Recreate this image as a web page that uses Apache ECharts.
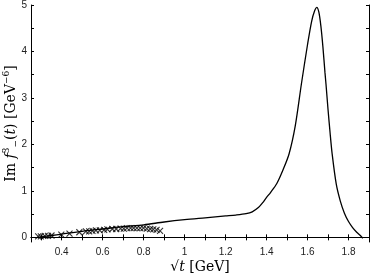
<!DOCTYPE html>
<html><head><meta charset="utf-8">
<script src="https://cdn.jsdelivr.net/npm/echarts@6/dist/echarts.min.js"></script>
<style>html,body{margin:0;padding:0;background:#fff}#c{width:371px;height:276px}</style>
</head><body><div id="c"></div>
<script>
// Theory curve
const curveX = [0.28,0.30,0.35,0.40,0.50,0.60,0.70,0.80,0.90,1.00,1.10,1.20,1.25,1.30,1.33,1.36,1.38,1.40,1.42,1.45,1.48,1.51,1.54,1.57,1.60,1.62,1.635,1.645,1.655,1.665,1.675,1.685,1.69,1.70,1.71,1.72,1.74,1.76,1.78,1.80,1.82,1.84,1.86,1.87];
const curveY = [0.00,0.01,0.04,0.07,0.13,0.18,0.23,0.27,0.33,0.38,0.42,0.46,0.48,0.51,0.55,0.64,0.74,0.86,0.97,1.16,1.45,1.80,2.40,3.30,4.15,4.65,4.88,4.95,4.85,4.55,4.10,3.55,3.30,2.75,2.25,1.80,1.15,0.78,0.52,0.34,0.21,0.11,0.03,-0.02];
// Data points (crosses)
const dataX = [0.285,0.298,0.317,0.333,0.350,0.398,0.438,0.486,0.518,0.534,0.550,0.567,0.586,0.607,0.623,0.647,0.666,0.687,0.703,0.719,0.736,0.751,0.767,0.783,0.799,0.815,0.832,0.847,0.863,0.880];
const dataY = [0.02,0.02,0.03,0.03,0.04,0.06,0.08,0.11,0.13,0.13,0.14,0.15,0.15,0.16,0.17,0.18,0.18,0.19,0.19,0.20,0.20,0.20,0.20,0.20,0.20,0.19,0.18,0.17,0.16,0.14];
const xTicks = [0.3,0.4,0.5,0.6,0.7,0.8,0.9,1.0,1.1,1.2,1.3,1.4,1.5,1.6,1.7,1.8];
const xLabels = [0.4,0.6,0.8,1,1.2,1.4,1.6,1.8];
const yTicks = [0,0.5,1,1.5,2,2.5,3,3.5,4,4.5,5];
const yLabels = [0,1,2,3,4,5];

const chart = echarts.init(document.getElementById('c'));
const axisLine = {show:true, lineStyle:{color:'#000', width:1}};
const tickStyle = {lineStyle:{color:'#000', width:1}};
const lab = {color:'#222', fontFamily:'Liberation Sans, Arial, sans-serif', fontSize:10};
const serif = 'DejaVu Serif, Liberation Serif, serif';
chart.setOption({
  animation:false,
  grid:{left:31, right:2, top:5, bottom:34, containLabel:false, outerBoundsMode:'none'},
  xAxis:[{
    type:'value', min:0.25, max:1.9, position:'bottom',
    axisLine, splitLine:{show:false},
    axisTick:{show:true, inside:true, length:3, customValues:xTicks, ...tickStyle},
    axisLabel:{...lab, margin:5, customValues:xLabels},
    name:'{r|√}{i|t}{r| [GeV]}', nameLocation:'middle', nameGap:18, nameMoveOverlap:false,
    nameTextStyle:{rich:{r:{fontFamily:serif,fontSize:14,color:'#000'}, i:{fontFamily:serif,fontStyle:'italic',fontSize:14,color:'#000'}}}
  },{
    type:'value', min:0.25, max:1.9, position:'top',
    axisLine, splitLine:{show:false},
    axisTick:{show:true, inside:true, length:3, customValues:xTicks, ...tickStyle},
    axisLabel:{show:false}
  }],
  yAxis:[{
    type:'value', min:-0.1, max:5, position:'left',
    axisLine, splitLine:{show:false},
    axisTick:{show:true, inside:true, length:3, customValues:yTicks, ...tickStyle},
    axisLabel:{...lab, margin:4, customValues:yLabels},
    name:'{r|Im }{i|f}{sup|3}{sub|−}{r|(}{i|t}{r|) [GeV}{sup|−6}{r|]}', nameLocation:'middle', nameGap:11, nameRotate:90, nameMoveOverlap:false,
    nameTextStyle:{rich:{
      r:{fontFamily:serif,fontSize:14,color:'#000',lineHeight:18,verticalAlign:'middle'},
      i:{fontFamily:serif,fontStyle:'italic',fontSize:14,color:'#000',lineHeight:18,verticalAlign:'middle'},
      sup:{fontFamily:serif,fontSize:9,color:'#000',lineHeight:18,verticalAlign:'top'},
      sub:{fontFamily:serif,fontSize:9,color:'#000',lineHeight:18,verticalAlign:'bottom'}
    }}
  },{
    type:'value', min:-0.1, max:5, position:'right',
    axisLine, splitLine:{show:false},
    axisTick:{show:true, inside:true, length:3, customValues:yTicks, ...tickStyle},
    axisLabel:{show:false}
  }],
  series:[{
    type:'line', data:curveX.map((x,i)=>[x,curveY[i]]), smooth:0.3, showSymbol:false,
    lineStyle:{color:'#000', width:1.3}, z:2
  },{
    type:'scatter', data:dataX.map((x,i)=>[x,dataY[i]]),
    symbol:'path://M0,0L10,10M10,0L0,10', symbolSize:6,
    itemStyle:{color:'none', borderColor:'#000', borderWidth:1.1}, z:3
  }]
});
</script></body></html>
